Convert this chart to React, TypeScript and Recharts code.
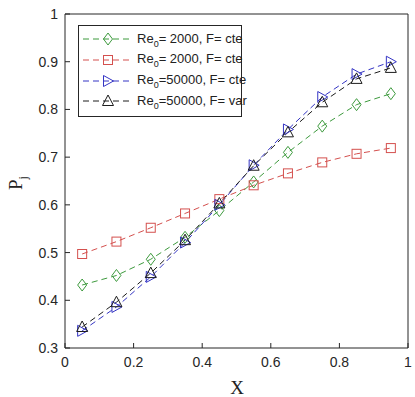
import { LineChart, Line, XAxis, YAxis } from 'recharts';

const xPositions = [0.05, 0.15, 0.25, 0.35, 0.45, 0.55, 0.65, 0.75, 0.85, 0.95];
const re2000Cte = [0.432, 0.452, 0.486, 0.532, 0.588, 0.648, 0.71, 0.765, 0.81, 0.833];
const re2000CteSq = [0.497, 0.523, 0.552, 0.582, 0.612, 0.641, 0.666, 0.689, 0.707, 0.719];
const re50000Cte = [0.336, 0.386, 0.449, 0.521, 0.6, 0.683, 0.758, 0.826, 0.874, 0.9];
const re50000Var = [0.344, 0.396, 0.457, 0.526, 0.603, 0.682, 0.752, 0.815, 0.864, 0.887];

const xTicks = [0, 0.2, 0.4, 0.6, 0.8, 1];
const yTicks = [0.3, 0.4, 0.5, 0.6, 0.7, 0.8, 0.9, 1];

const data = xPositions.map((x, i) => ({
  x,
  green: re2000Cte[i],
  red: re2000CteSq[i],
  blue: re50000Cte[i],
  black: re50000Var[i],
}));

const AXIS = '#262626';
const FONT = '"Liberation Sans", Arial, sans-serif';
const SERIF = '"Liberation Serif", "Times New Roman", serif';

type Shape = 'diamond' | 'square' | 'tri-right' | 'tri-up';

const series: { key: string; color: string; shape: Shape; re: string; f: string }[] = [
  { key: 'green', color: '#3d9a3d', shape: 'diamond', re: '= 2000', f: 'cte' },
  { key: 'red', color: '#d4504e', shape: 'square', re: '= 2000', f: 'cte' },
  { key: 'blue', color: '#3434c4', shape: 'tri-right', re: '=50000', f: 'cte' },
  { key: 'black', color: '#1c1c1c', shape: 'tri-up', re: '=50000', f: 'var' },
];

const marker = (shape: Shape, cx: number, cy: number, color: string, key?: string | number) => {
  const common = { key, fill: 'none', stroke: color, strokeWidth: 1 };
  switch (shape) {
    case 'diamond':
      return <polygon {...common} points={`${cx},${cy - 6} ${cx + 4.5},${cy} ${cx},${cy + 6} ${cx - 4.5},${cy}`} />;
    case 'square':
      return <rect {...common} x={cx - 4.5} y={cy - 4.5} width={9} height={9} />;
    case 'tri-right':
      return <polygon {...common} points={`${cx - 4.5},${cy - 5.5} ${cx + 5.5},${cy} ${cx - 4.5},${cy + 5.5}`} />;
    default:
      return <polygon {...common} points={`${cx},${cy - 6} ${cx + 5.5},${cy + 4.5} ${cx - 5.5},${cy + 4.5}`} />;
  }
};

// legend box sits over the plot, outside recharts so it takes no room from the axes
const LegendBox = () => (
  <div
    style={{
      position: 'absolute',
      left: 78,
      top: 25,
      border: `1px solid ${AXIS}`,
      background: '#fff',
      width: 162,
      padding: '3px 0 4px 0',
      fontFamily: FONT,
      fontSize: 13,
      color: '#222',
    }}
  >
    {series.map((s) => (
      <div key={s.key} style={{ display: 'flex', alignItems: 'center', height: 20.7 }}>
        <svg width={58} height={16} style={{ flex: 'none' }}>
          <line x1={4} y1={8} x2={54} y2={8} stroke={s.color} strokeDasharray="6 4" />
          {marker(s.shape, 29, 8, s.color)}
        </svg>
        <span style={{ whiteSpace: 'nowrap' }}>
          Re<sub style={{ fontSize: 9 }}>0</sub>
          {s.re}, F= {s.f}
        </span>
      </div>
    ))}
  </div>
);

const YLabel = () => (
  <text x={22} y={190} transform="rotate(-90, 22, 190)" fontFamily={SERIF} fontSize={19} fill="#222">
    P
    <tspan dy={5} fontSize={12}>j</tspan>
  </text>
);

const XLabel = () => (
  <text x={237} y={394} textAnchor="middle" fontFamily={SERIF} fontSize={19} fill="#222">
    X
  </text>
);

const tickStyle = { fill: AXIS, fontSize: 14, fontFamily: FONT };

export default function App() {
  return (
    <div style={{ position: 'absolute', left: 0, top: 0, background: '#fff', width: 415, height: 397 }}>
      <LineChart width={415} height={397} data={data} margin={{ top: 13, right: 6, bottom: 0, left: 0 }}>
        <XAxis
          xAxisId="b"
          type="number"
          dataKey="x"
          domain={[0, 1]}
          ticks={xTicks}
          height={49}
          stroke={AXIS}
          tickSize={-5}
          tickMargin={14}
          tick={tickStyle}
          label={<XLabel />}
        />
        <XAxis xAxisId="t" orientation="top" type="number" dataKey="x" domain={[0, 1]} ticks={xTicks} height={1} stroke={AXIS} tickSize={-5} tick={false} />
        <YAxis
          yAxisId="l"
          type="number"
          domain={[0.3, 1]}
          ticks={yTicks}
          width={65}
          stroke={AXIS}
          tickSize={-5}
          tickMargin={12}
          tick={tickStyle}
          label={<YLabel />}
        />
        <YAxis yAxisId="r" orientation="right" type="number" domain={[0.3, 1]} ticks={yTicks} width={1} stroke={AXIS} tickSize={-5} tick={false} />
        {series.map((s) => (
          <Line
            key={s.key}
            xAxisId="b"
            yAxisId="l"
            type="linear"
            dataKey={s.key}
            stroke={s.color}
            strokeWidth={1}
            strokeDasharray="6 4"
            isAnimationActive={false}
            dot={(p: any) => marker(s.shape, p.cx, p.cy, s.color, `${s.key}-${p.index}`)}
            activeDot={false}
          />
        ))}
      </LineChart>
      <LegendBox />
    </div>
  );
}
